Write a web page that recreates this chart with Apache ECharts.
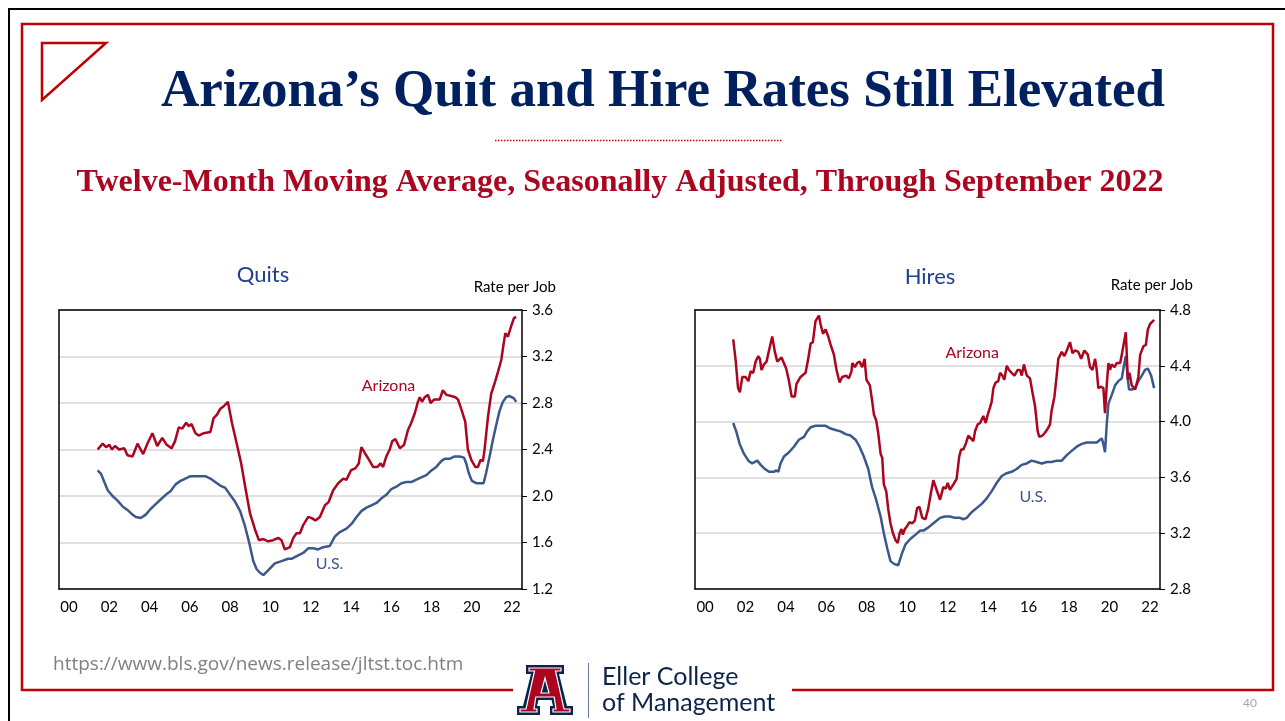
<!DOCTYPE html>
<html>
<head>
<meta charset="utf-8">
<title>Arizona Quit and Hire Rates</title>
<script src="https://cdn.jsdelivr.net/npm/echarts@6/dist/echarts.min.js"></script>
<style>
  html, body { margin: 0; padding: 0; background: #fff; }
  #main { width: 1285px; height: 721px; }
</style>
</head>
<body>
<div id="main"></div>
<script>
// year tick labels (one category per year, label every other year)
var yearLabels = ['00','01','02','03','04','05','06','07','08','09','10','11',
                  '12','13','14','15','16','17','18','19','20','21','22'];

// Quits, 12-month moving average, [year, rate]
var quitsArizona = [[2001.92,2.40],[2002.17,2.45],[2002.34,2.42],[2002.50,2.44],[2002.63,2.40],[2002.78,2.43],[2002.99,2.40],[2003.24,2.41],[2003.40,2.35],[2003.65,2.34],[2003.90,2.45],[2004.18,2.36],[2004.39,2.45],[2004.64,2.54],[2004.88,2.43],[2005.13,2.50],[2005.35,2.44],[2005.59,2.41],[2005.76,2.47],[2005.95,2.59],[2006.12,2.58],[2006.32,2.63],[2006.45,2.60],[2006.58,2.62],[2006.78,2.54],[2006.94,2.52],[2007.19,2.54],[2007.52,2.55],[2007.68,2.67],[2007.85,2.70],[2008.01,2.75],[2008.17,2.77],[2008.39,2.81],[2008.59,2.63],[2008.83,2.45],[2009.05,2.28],[2009.28,2.05],[2009.49,1.85],[2009.74,1.71],[2009.93,1.62],[2010.15,1.63],[2010.39,1.61],[2010.64,1.62],[2010.89,1.64],[2011.05,1.62],[2011.22,1.54],[2011.47,1.56],[2011.64,1.64],[2011.80,1.68],[2011.97,1.68],[2012.13,1.75],[2012.38,1.82],[2012.55,1.81],[2012.74,1.79],[2012.96,1.82],[2013.21,1.92],[2013.40,1.95],[2013.62,2.05],[2013.87,2.11],[2014.12,2.15],[2014.28,2.14],[2014.50,2.22],[2014.73,2.24],[2014.89,2.28],[2015.02,2.42],[2015.19,2.37],[2015.44,2.30],[2015.60,2.25],[2015.82,2.25],[2015.98,2.28],[2016.10,2.25],[2016.26,2.34],[2016.43,2.40],[2016.55,2.47],[2016.71,2.49],[2016.93,2.41],[2017.14,2.44],[2017.34,2.57],[2017.50,2.63],[2017.67,2.71],[2017.83,2.81],[2017.92,2.85],[2018.03,2.81],[2018.17,2.85],[2018.33,2.87],[2018.46,2.80],[2018.63,2.83],[2018.91,2.83],[2019.07,2.91],[2019.24,2.87],[2019.49,2.86],[2019.69,2.85],[2019.82,2.83],[2019.98,2.75],[2020.18,2.64],[2020.31,2.40],[2020.48,2.31],[2020.68,2.25],[2020.81,2.25],[2020.94,2.31],[2021.06,2.30],[2021.14,2.40],[2021.31,2.68],[2021.47,2.88],[2021.64,2.97],[2021.81,3.07],[2021.97,3.17],[2022.08,3.30],[2022.17,3.40],[2022.30,3.37],[2022.46,3.46],[2022.60,3.53],[2022.71,3.54]];

var quitsUS = [[2001.92,2.22],[2002.09,2.19],[2002.25,2.12],[2002.42,2.05],[2002.66,2.00],[2002.91,1.96],[2003.16,1.91],[2003.40,1.88],[2003.65,1.84],[2003.82,1.82],[2004.06,1.81],[2004.31,1.84],[2004.56,1.89],[2004.80,1.93],[2005.05,1.97],[2005.30,2.01],[2005.54,2.04],[2005.79,2.10],[2006.04,2.13],[2006.28,2.15],[2006.53,2.17],[2006.78,2.17],[2007.02,2.17],[2007.27,2.17],[2007.52,2.15],[2007.76,2.12],[2008.01,2.09],[2008.26,2.07],[2008.50,2.01],[2008.75,1.95],[2009.00,1.87],[2009.24,1.74],[2009.46,1.59],[2009.65,1.44],[2009.82,1.37],[2009.98,1.34],[2010.15,1.32],[2010.39,1.36],[2010.72,1.42],[2011.05,1.44],[2011.38,1.46],[2011.55,1.46],[2011.88,1.49],[2012.13,1.51],[2012.38,1.55],[2012.63,1.55],[2012.88,1.54],[2013.12,1.56],[2013.45,1.57],[2013.70,1.65],[2013.95,1.69],[2014.28,1.72],[2014.53,1.76],[2014.78,1.82],[2015.02,1.87],[2015.27,1.90],[2015.52,1.92],[2015.77,1.94],[2016.02,1.98],[2016.26,2.01],[2016.51,2.06],[2016.76,2.08],[2017.01,2.11],[2017.26,2.12],[2017.50,2.12],[2017.75,2.14],[2018.00,2.16],[2018.25,2.18],[2018.50,2.22],[2018.74,2.25],[2018.99,2.30],[2019.16,2.32],[2019.40,2.32],[2019.65,2.34],[2019.90,2.34],[2020.12,2.33],[2020.23,2.28],[2020.35,2.20],[2020.51,2.13],[2020.73,2.11],[2020.89,2.11],[2021.09,2.11],[2021.22,2.20],[2021.39,2.34],[2021.55,2.48],[2021.72,2.61],[2021.88,2.73],[2022.05,2.81],[2022.21,2.85],[2022.38,2.86],[2022.60,2.84],[2022.71,2.81]];

// Hires, 12-month moving average, [year, rate]
var hiresArizona = [[2001.89,4.59],[2002.01,4.44],[2002.13,4.24],[2002.22,4.21],[2002.34,4.32],[2002.50,4.32],[2002.64,4.29],[2002.75,4.36],[2002.88,4.35],[2003.00,4.43],[2003.13,4.47],[2003.21,4.45],[2003.29,4.37],[2003.41,4.41],[2003.54,4.43],[2003.66,4.51],[2003.82,4.61],[2003.95,4.50],[2004.07,4.43],[2004.28,4.46],[2004.51,4.38],[2004.65,4.29],[2004.78,4.18],[2004.94,4.18],[2005.02,4.27],[2005.22,4.32],[2005.47,4.35],[2005.60,4.45],[2005.72,4.56],[2005.83,4.57],[2005.96,4.72],[2006.05,4.73],[2006.13,4.76],[2006.21,4.70],[2006.33,4.63],[2006.46,4.66],[2006.59,4.61],[2006.71,4.55],[2006.87,4.48],[2007.00,4.37],[2007.15,4.28],[2007.28,4.32],[2007.48,4.33],[2007.61,4.31],[2007.74,4.36],[2007.78,4.42],[2007.91,4.39],[2008.02,4.42],[2008.14,4.43],[2008.27,4.39],[2008.39,4.45],[2008.48,4.30],[2008.65,4.26],[2008.76,4.15],[2008.85,4.05],[2008.96,4.01],[2009.06,3.92],[2009.18,3.77],[2009.26,3.74],[2009.34,3.55],[2009.46,3.50],[2009.56,3.37],[2009.67,3.27],[2009.79,3.20],[2009.92,3.15],[2010.03,3.13],[2010.12,3.20],[2010.21,3.23],[2010.28,3.19],[2010.38,3.23],[2010.49,3.25],[2010.61,3.28],[2010.74,3.27],[2010.87,3.29],[2010.99,3.38],[2011.10,3.39],[2011.24,3.31],[2011.40,3.30],[2011.54,3.38],[2011.67,3.49],[2011.79,3.58],[2011.87,3.59],[2012.00,3.49],[2012.12,3.44],[2012.28,3.53],[2012.40,3.52],[2012.50,3.56],[2012.61,3.51],[2012.78,3.55],[2012.94,3.59],[2013.07,3.75],[2013.16,3.80],[2013.27,3.80],[2013.39,3.84],[2013.52,3.90],[2013.60,3.89],[2013.77,3.86],[2013.85,3.93],[2013.98,3.98],[2014.10,3.99],[2014.26,4.04],[2014.38,3.99],[2014.48,4.05],[2014.59,4.10],[2014.67,4.14],[2014.76,4.24],[2014.87,4.28],[2015.00,4.29],[2015.09,4.35],[2015.20,4.33],[2015.30,4.30],[2015.42,4.40],[2015.53,4.37],[2015.66,4.35],[2015.80,4.33],[2015.96,4.37],[2016.08,4.37],[2016.16,4.33],[2016.27,4.41],[2016.41,4.33],[2016.57,4.31],[2016.69,4.21],[2016.82,4.11],[2016.95,3.93],[2017.03,3.89],[2017.18,3.90],[2017.31,3.92],[2017.45,3.95],[2017.56,3.98],[2017.64,4.08],[2017.78,4.18],[2017.89,4.33],[2017.97,4.45],[2018.14,4.50],[2018.27,4.47],[2018.39,4.51],[2018.55,4.57],[2018.67,4.49],[2018.80,4.51],[2018.96,4.50],[2019.10,4.45],[2019.26,4.51],[2019.43,4.48],[2019.54,4.39],[2019.66,4.37],[2019.79,4.45],[2019.87,4.37],[2019.95,4.24],[2020.09,4.25],[2020.20,4.24],[2020.28,4.06],[2020.37,4.27],[2020.45,4.42],[2020.53,4.37],[2020.61,4.41],[2020.75,4.39],[2020.86,4.42],[2021.03,4.42],[2021.11,4.48],[2021.19,4.49],[2021.31,4.64],[2021.41,4.30],[2021.49,4.35],[2021.60,4.26],[2021.77,4.23],[2021.93,4.32],[2022.02,4.48],[2022.18,4.54],[2022.30,4.55],[2022.40,4.66],[2022.51,4.70],[2022.71,4.73]];

var hiresUS = [[2001.89,3.99],[2002.04,3.93],[2002.21,3.84],[2002.42,3.77],[2002.64,3.72],[2002.83,3.70],[2003.08,3.72],[2003.25,3.69],[2003.46,3.66],[2003.66,3.64],[2003.90,3.64],[2004.02,3.65],[2004.12,3.64],[2004.23,3.70],[2004.40,3.75],[2004.65,3.78],[2004.89,3.82],[2005.14,3.87],[2005.39,3.89],[2005.55,3.93],[2005.72,3.96],[2005.96,3.97],[2006.21,3.97],[2006.46,3.97],[2006.71,3.95],[2006.95,3.94],[2007.20,3.93],[2007.45,3.91],[2007.69,3.90],[2007.94,3.87],[2008.14,3.82],[2008.35,3.75],[2008.57,3.66],[2008.76,3.53],[2008.96,3.44],[2009.18,3.32],[2009.34,3.20],[2009.51,3.09],[2009.67,3.00],[2009.84,2.98],[2010.05,2.97],[2010.25,3.06],[2010.41,3.12],[2010.66,3.16],[2010.91,3.19],[2011.15,3.22],[2011.32,3.22],[2011.53,3.24],[2011.62,3.25],[2011.87,3.28],[2012.12,3.31],[2012.36,3.32],[2012.61,3.32],[2012.86,3.31],[2013.11,3.31],[2013.27,3.30],[2013.44,3.31],[2013.68,3.35],[2013.93,3.38],[2014.18,3.41],[2014.43,3.45],[2014.67,3.50],[2014.92,3.56],[2015.17,3.61],[2015.42,3.63],[2015.66,3.64],[2015.91,3.66],[2016.16,3.69],[2016.41,3.70],[2016.65,3.72],[2016.90,3.71],[2017.15,3.70],[2017.40,3.71],[2017.64,3.71],[2017.89,3.72],[2018.14,3.72],[2018.39,3.76],[2018.63,3.79],[2018.88,3.82],[2019.13,3.84],[2019.38,3.85],[2019.62,3.85],[2019.87,3.85],[2020.12,3.88],[2020.20,3.84],[2020.28,3.78],[2020.37,3.99],[2020.45,4.13],[2020.61,4.19],[2020.78,4.26],[2020.94,4.29],[2021.11,4.31],[2021.19,4.38],[2021.31,4.47],[2021.41,4.30],[2021.47,4.23],[2021.60,4.23],[2021.77,4.24],[2021.93,4.29],[2022.10,4.33],[2022.26,4.37],[2022.40,4.38],[2022.56,4.33],[2022.71,4.24]];

var AZ_RED = '#AB0520';
var US_BLUE = '#3B578C';
var FRAME_RED = '#C00000';
var NAVY = '#0C234B';
var SANS = 'Lato';
var SERIF = 'Liberation Serif';

var myChart;

function xAxes(grid) {
  return [{
    gridIndex: grid,
    type: 'category',
    data: yearLabels,
    boundaryGap: true,
    axisLine: { lineStyle: { color: '#000', width: 1.5 } },
    axisTick: { interval: 0, length: 6, lineStyle: { color: '#000' } },
    axisLabel: { interval: 1, color: '#000', fontSize: 15, fontFamily: SANS, margin: 11 },
    splitLine: { show: false }
  }, {
    // value axis the lines are drawn on; only its line shows, as the frame top
    gridIndex: grid,
    type: 'value',
    position: 'top',
    min: 2000,
    max: 2023,
    axisLine: { show: true, lineStyle: { color: '#000', width: 1.5 } },
    axisTick: { show: false },
    axisLabel: { show: false },
    splitLine: { show: false }
  }];
}

function yAxes(grid, min, max) {
  return [{
    gridIndex: grid,
    type: 'value',
    position: 'right',
    min: min,
    max: max,
    interval: 0.4,
    axisLine: { show: true, lineStyle: { color: '#000', width: 1.5 } },
    axisTick: { show: true, length: 5, lineStyle: { color: '#000' } },
    axisLabel: {
      color: '#000', fontSize: 15, fontFamily: SANS, margin: 10,
      formatter: function (v) { return v.toFixed(1); }
    },
    splitLine: { show: true, lineStyle: { color: '#d6d6d6', width: 1.5 } }
  }, {
    // left edge of the frame
    gridIndex: grid,
    type: 'value',
    position: 'left',
    min: min,
    max: max,
    interval: 0.4,
    axisLine: { show: true, lineStyle: { color: '#000', width: 1.5 } },
    axisTick: { show: false },
    axisLabel: { show: false },
    splitLine: { show: false }
  }];
}

function lineSeries(name, data, color, xi, yi, tag) {
  return {
    name: name,
    type: 'line',
    xAxisIndex: xi,
    yAxisIndex: yi,
    data: data,
    showSymbol: false,
    symbol: 'none',
    z: 3,
    lineStyle: { color: color, width: 2.5 },
    markPoint: {
      symbol: 'circle',
      symbolSize: 1,
      itemStyle: { color: 'rgba(0,0,0,0)' },
      label: { show: true, position: 'inside', formatter: tag.text,
               color: color, fontSize: 16, fontFamily: SANS },
      data: [{ coord: tag.at }]
    }
  };
}

function txt(x, y, text, size, color, family, weight, align) {
  return {
    type: 'text', x: x, y: y,
    style: {
      text: text, fontSize: size, fontFamily: family, fontWeight: weight || 'normal',
      fill: color, align: align || 'center', verticalAlign: 'middle'
    }
  };
}

function slideGraphics() {
  return [
    // outer black rule
    { type: 'polyline', shape: { points: [[9, 721], [9, 9], [1285, 9]] },
      style: { stroke: '#000', lineWidth: 2, fill: null } },
    // red frame with gap for the logo
    { type: 'polyline', shape: { points: [[513, 690], [22, 690], [22, 24], [1273, 24], [1273, 690], [792, 690]] },
      style: { stroke: FRAME_RED, lineWidth: 2.5, fill: null } },
    // corner triangle
    { type: 'polygon', shape: { points: [[42, 43], [106, 43], [42, 100]] },
      style: { stroke: FRAME_RED, lineWidth: 2.5, fill: null } },
    txt(663, 92, 'Arizona\u2019s Quit and Hire Rates Still Elevated', 53, '#002060', SERIF, 'bold'),
    { type: 'line', shape: { x1: 495, y1: 140.5, x2: 782, y2: 140.5 },
      style: { stroke: FRAME_RED, lineWidth: 1.5, lineDash: [1.5, 1.5] } },
    txt(620, 183, 'Twelve-Month Moving Average, Seasonally Adjusted, Through September 2022', 32, AZ_RED, SERIF, 'bold'),
    txt(263, 275, 'Quits', 22, '#1F3F8F', SANS),
    txt(930, 277, 'Hires', 22, '#1F3F8F', SANS),
    txt(556, 287, 'Rate per Job', 15, '#000', SANS, 'normal', 'right'),
    txt(1193, 285, 'Rate per Job', 15, '#000', SANS, 'normal', 'right'),
    txt(53, 665, 'https://www.bls.gov/news.release/jltst.toc.htm', 19, '#808080', 'Open Sans', 'normal', 'left'),
    // block A logo
    { type: 'group', x: 517, y: 665, children: [
      { type: 'polygon', shape: { points: [[9,0],[47,0],[47,9],[42,9],[50,41],[56,41],[56,50],[33,50],[33,41],[36,41],[34.5,35],[21.5,35],[20,41],[23,41],[23,50],[0,50],[0,41],[6,41],[14,9],[9,9]] },
        style: { fill: NAVY } },
      { type: 'polygon', shape: { points: [[12,3],[44,3],[44,6],[38.5,6],[47,44],[53,44],[53,47],[36,47],[36,44],[39,44],[37.2,32],[18.8,32],[17,44],[20,44],[20,47],[3,47],[3,44],[9,44],[17.5,6],[12,6]] },
        style: { fill: AZ_RED, stroke: '#fff', lineWidth: 1.2 } },
      { type: 'polygon', shape: { points: [[24,28],[32,28],[28,13]] },
        style: { fill: NAVY, stroke: '#fff', lineWidth: 1.2 } }
    ] },
    { type: 'line', shape: { x1: 588.5, y1: 663, x2: 588.5, y2: 718 },
      style: { stroke: '#6b7a99', lineWidth: 1 } },
    txt(602, 677, 'Eller College', 25, NAVY, SANS, 'normal', 'left'),
    txt(602, 703, 'of Management', 25, NAVY, SANS, 'normal', 'left'),
    txt(1250, 703, '40', 12, '#a6a6a6', SANS)
  ];
}

function showCharts() {
  myChart = echarts.init(document.getElementById('main'), null, { renderer: 'canvas' });
  myChart.setOption({
    animation: false,
    backgroundColor: '#fff',
    grid: [
      { left: 59, top: 310, width: 463, height: 279 },
      { left: 695, top: 310, width: 465, height: 279 }
    ],
    xAxis: xAxes(0).concat(xAxes(1)),
    yAxis: yAxes(0, 1.2, 3.6).concat(yAxes(1, 2.8, 4.8)),
    series: [
      lineSeries('Quits US', quitsUS, US_BLUE, 1, 0, { text: 'U.S.', at: [2013.44, 1.42] }),
      lineSeries('Quits Arizona', quitsArizona, AZ_RED, 1, 0, { text: 'Arizona', at: [2016.37, 2.95] }),
      lineSeries('Hires US', hiresUS, US_BLUE, 3, 2, { text: 'U.S.', at: [2016.73, 3.46] }),
      lineSeries('Hires Arizona', hiresArizona, AZ_RED, 3, 2, { text: 'Arizona', at: [2013.71, 4.49] })
    ],
    graphic: slideGraphics()
  });
}

showCharts();
</script>
</body>
</html>
